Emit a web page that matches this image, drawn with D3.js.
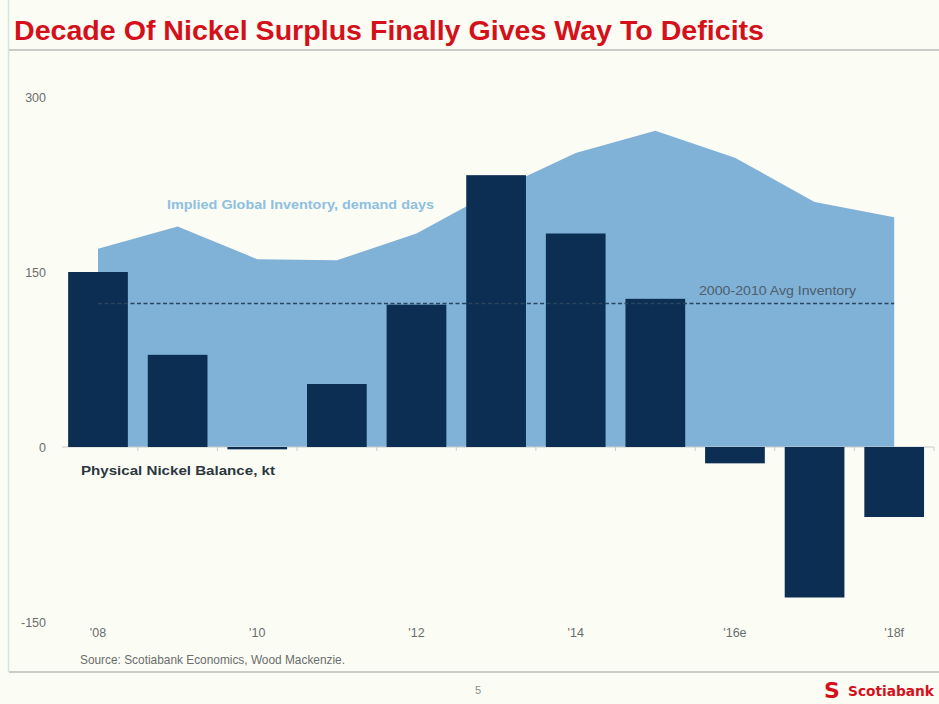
<!DOCTYPE html>
<html>
<head>
<meta charset="utf-8">
<script src="https://cdn.jsdelivr.net/npm/d3@7"></script>
<style>
  html, body { margin: 0; padding: 0; background: #fbfcf4; }
  svg { display: block; }
  .narrow { font-family: "Liberation Sans Narrow", "Arial Narrow", "Liberation Sans", Arial, sans-serif; }
</style>
</head>
<body>
<svg id="chart" width="939" height="704"></svg>
<script>
// ---- data ----
const years = ["2008","2009","2010","2011","2012","2013","2014","2015","2016","2017","2018"];
const balanceKt = [150, 79, -2, 54, 122, 233, 183, 127, -14, -129, -60];
const inventoryDays = [170, 189, 161, 160, 183, 220, 252, 271, 248, 210, 197];
const avgInventory = 123;
const xTickLabels = {"2008":"'08","2010":"'10","2012":"'12","2014":"'14","2016":"'16e","2018":"'18f"};
const yTicks = [-150, 0, 150, 300];

const svg = d3.select("#chart");
const W = 939, H = 704;

// background / slide frame
svg.append("rect").attr("width", W).attr("height", H).attr("fill", "#fbfcf4");
svg.append("line").attr("x1", 8.5).attr("x2", 8.5).attr("y1", 0).attr("y2", 672)
  .attr("stroke", "#cfe6e4").attr("stroke-width", 1.5);
svg.append("line").attr("x1", 9).attr("x2", W).attr("y1", 50).attr("y2", 50)
  .attr("stroke", "#b8bcb8").attr("stroke-width", 1.5);
svg.append("line").attr("x1", 9).attr("x2", W).attr("y1", 672).attr("y2", 672)
  .attr("stroke", "#b8bcb8").attr("stroke-width", 1.5);

// title
svg.append("text").attr("class", "narrow")
  .attr("x", 14).attr("y", 40)
  .attr("fill", "#d4111b").attr("font-weight", "bold").attr("font-size", 28)
  .attr("textLength", 750).attr("lengthAdjust", "spacingAndGlyphs")
  .text("Decade Of Nickel Surplus Finally Gives Way To Deficits");

// scales
const x = d3.scaleBand().domain(years).range([58.2, 934]).paddingInner(0.25).paddingOuter(0.125);
const y = d3.scaleLinear().domain([-150, 300]).range([622, 97]);
const cx = d => x(d) + x.bandwidth() / 2;

// inventory area
const area = d3.area()
  .x((d, i) => cx(years[i]))
  .y0(y(0))
  .y1(d => y(d));
svg.append("path").datum(inventoryDays)
  .attr("d", area)
  .attr("fill", "#80b1d7");

// zero line + ticks
svg.append("line").attr("x1", 62).attr("x2", 934).attr("y1", y(0)).attr("y2", y(0))
  .attr("stroke", "#c8cccc").attr("stroke-width", 1);
const gap = x.step() * x.paddingInner();
svg.append("g").selectAll("line").data(years.slice(1).concat(["end"]))
  .join("line")
  .attr("x1", d => d === "end" ? 934 : x(d) - gap / 2)
  .attr("x2", d => d === "end" ? 934 : x(d) - gap / 2)
  .attr("y1", y(0)).attr("y2", y(0) + 4)
  .attr("stroke", "#c8cccc");

// bars
svg.append("g").selectAll("rect").data(balanceKt)
  .join("rect")
  .attr("x", (d, i) => x(years[i]))
  .attr("width", x.bandwidth())
  .attr("y", d => y(Math.max(0, d)))
  .attr("height", d => Math.abs(y(d) - y(0)))
  .attr("fill", "#0b2e52");

// avg inventory dashed line
svg.append("line")
  .attr("x1", cx(years[0])).attr("x2", cx(years[years.length - 1]))
  .attr("y1", y(avgInventory)).attr("y2", y(avgInventory))
  .attr("stroke", "#2a4560").attr("stroke-width", 1.4)
  .attr("stroke-dasharray", "4,2.5");
svg.append("text").attr("class", "narrow")
  .attr("x", 699).attr("y", y(avgInventory) - 9)
  .attr("fill", "#4d5e6e").attr("font-size", 12.5)
  .attr("textLength", 157).attr("lengthAdjust", "spacingAndGlyphs")
  .text("2000-2010 Avg Inventory");

// series labels
svg.append("text")
  .attr("x", 167).attr("y", 209)
  .attr("font-family", "Liberation Sans, Arial, sans-serif")
  .attr("fill", "#8ec0e0").attr("font-weight", "bold").attr("font-size", 13)
  .attr("textLength", 267).attr("lengthAdjust", "spacingAndGlyphs")
  .text("Implied Global Inventory, demand days");
svg.append("text")
  .attr("x", 81).attr("y", 475)
  .attr("font-family", "Liberation Sans, Arial, sans-serif")
  .attr("fill", "#2b3640").attr("font-weight", "bold").attr("font-size", 13)
  .attr("textLength", 194).attr("lengthAdjust", "spacingAndGlyphs")
  .text("Physical Nickel Balance, kt");

// y axis
const yAxis = d3.axisLeft(y).tickValues(yTicks).tickSize(0).tickPadding(0).tickFormat(d => String(d));
const gy = svg.append("g").attr("transform", "translate(46,0)").call(yAxis);
gy.select(".domain").remove();
gy.selectAll("text").attr("class", "narrow").attr("font-size", 12.5).attr("fill", "#6a6e6e")
  .attr("font-family", null);

// x axis
const xAxis = d3.axisBottom(x).tickValues(Object.keys(xTickLabels)).tickSize(0).tickPadding(0)
  .tickFormat(d => xTickLabels[d]);
const gx = svg.append("g").attr("transform", "translate(0,628)").call(xAxis);
gx.select(".domain").remove();
gx.selectAll("text").attr("class", "narrow").attr("font-size", 12.5).attr("fill", "#6a6e6e")
  .attr("font-family", null);

// source
svg.append("text").attr("class", "narrow")
  .attr("x", 80).attr("y", 664)
  .attr("fill", "#6a6e6e").attr("font-size", 13)
  .attr("textLength", 265).attr("lengthAdjust", "spacingAndGlyphs")
  .text("Source: Scotiabank Economics, Wood Mackenzie.");

// page number
svg.append("text").attr("class", "narrow")
  .attr("x", 478).attr("y", 694).attr("text-anchor", "middle")
  .attr("fill", "#8a8e8e").attr("font-size", 11)
  .text("5");

// logo
svg.append("text")
  .attr("x", 824).attr("y", 698)
  .attr("font-family", "DejaVu Sans, sans-serif")
  .attr("fill", "#d4111b").attr("font-weight", "bold").attr("font-size", 22)
  .text("S");
svg.append("text")
  .attr("x", 848).attr("y", 696)
  .attr("font-family", "DejaVu Sans, sans-serif")
  .attr("fill", "#d4111b").attr("font-weight", "bold").attr("font-size", 14)
  .attr("textLength", 86).attr("lengthAdjust", "spacingAndGlyphs")
  .text("Scotiabank");
</script>
</body>
</html>
